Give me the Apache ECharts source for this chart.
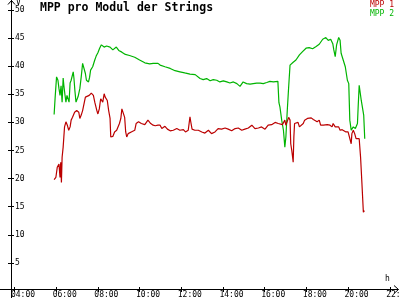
<!DOCTYPE html>
<html><head><meta charset="utf-8">
<script src="https://cdn.jsdelivr.net/npm/echarts@6/dist/echarts.min.js"></script>
<style>html,body{margin:0;padding:0;background:#fff}#c{width:400px;height:300px}</style>
</head><body><div id="c"></div>
<script>
const mpp1Times = ['05:54','05:59','06:03','06:08','06:11','06:13','06:15','06:17','06:20','06:22','06:24','06:28','06:32','06:36','06:40','06:43','06:47','06:53','06:59','07:05','07:08','07:12','07:16','07:20','07:24','07:29','07:35','07:41','07:47','07:51','07:57','08:00','08:04','08:08','08:14','08:18','08:21','08:27','08:31','08:35','08:37','08:43','08:48','08:54','08:58','09:02','09:06','09:09','09:13','09:17','09:20','09:23','09:27','09:36','09:46','09:50','09:57','10:05','10:15','10:24','10:32','10:39','10:45','10:53','10:59','11:04','11:13','11:20','11:28','11:37','11:47','11:56','12:06','12:12','12:20','12:25','12:27','12:31','12:39','12:49','12:59','13:08','13:18','13:27','13:37','13:46','13:56','14:06','14:15','14:25','14:35','14:44','14:54','15:03','15:13','15:23','15:32','15:42','15:51','16:01','16:10','16:20','16:30','16:39','16:44','16:51','16:58','17:01','17:05','17:09','17:13','17:15','17:18','17:21','17:22','17:24','17:26','17:30','17:36','17:40','17:45','17:51','17:55','17:59','18:03','18:08','18:14','18:20','18:25','18:31','18:37','18:41','18:49','18:54','19:00','19:08','19:14','19:17','19:23','19:27','19:33','19:37','19:43','19:48','19:54','20:00','20:05','20:09','20:11','20:15','20:19','20:23','20:27','20:32','20:36','20:40','20:44','20:47'];
const mpp1Values = [19.8,20.2,22.0,22.6,20.2,22.9,19.3,23.8,25.6,27.4,29.2,30.1,29.5,28.6,29.2,30.4,30.9,31.8,32.1,31.8,30.7,31.3,32.1,33.3,34.5,34.8,34.8,35.2,34.8,33.6,32.1,31.5,32.4,34.2,33.6,35.1,34.5,33.9,32.1,30.7,27.4,27.5,28.3,28.6,28.3,29.8,30.7,32.4,32.6,30.9,28.3,27.4,28.0,28.3,28.6,29.8,30.1,29.8,29.6,30.4,29.8,29.5,29.4,29.5,29.5,28.9,29.3,28.8,28.5,28.6,28.9,28.6,28.7,28.3,28.6,31.0,30.2,28.8,28.6,28.6,28.3,28.1,28.6,28.0,28.3,28.9,28.8,29.0,28.8,28.5,28.9,29.0,28.6,28.8,29.0,29.5,28.9,29.0,29.2,28.8,29.5,29.6,30.0,29.8,29.8,29.6,30.4,29.5,29.8,30.9,30.4,26.2,25.0,23.5,22.9,27.4,29.8,29.5,30.0,29.2,29.5,29.8,30.4,30.1,30.7,30.4,30.8,30.5,30.7,30.1,30.4,29.5,29.5,29.2,29.6,29.5,29.2,29.8,29.2,29.5,29.2,28.6,28.7,28.5,28.3,28.3,28.0,26.2,28.0,28.6,28.0,27.1,26.8,27.1,23.8,19.0,14.0,14.3];

const mpp2Times = ['05:54','05:57','06:01','06:05','06:08','06:11','06:14','06:17','06:20','06:22','06:25','06:28','06:31','06:34','06:37','06:40','06:43','06:49','06:51','06:54','06:57','07:00','07:03','07:08','07:12','07:16','07:20','07:24','07:27','07:29','07:33','07:36','07:39','07:45','07:51','07:55','08:00','08:05','08:10','08:18','08:25','08:35','08:43','08:53','09:00','09:09','09:19','09:31','09:46','10:00','10:15','10:29','10:39','10:53','10:59','11:13','11:28','11:42','11:56','12:10','12:25','12:40','12:54','13:03','13:13','13:23','13:32','13:42','13:51','14:01','14:11','14:20','14:30','14:40','14:49','14:58','15:08','15:18','15:27','15:37','15:47','15:56','16:06','16:15','16:25','16:38','16:41','16:44','16:49','16:54','16:58','17:01','17:05','17:09','17:13','17:17','17:22','17:30','17:40','17:49','17:59','18:08','18:18','18:28','18:37','18:47','18:56','19:03','19:10','19:16','19:19','19:23','19:27','19:33','19:37','19:40','19:46','19:52','19:58','20:02','20:05','20:09','20:15','20:21','20:27','20:29','20:32','20:35','20:38','20:42','20:45','20:48'];
const mpp2Values = [31.4,34.5,38.1,37.5,36.0,34.8,36.5,33.6,37.9,36.6,35.0,33.6,34.8,34.5,33.6,37.0,37.5,39.0,37.9,35.5,33.6,33.9,34.6,36.0,38.1,40.5,40.8,38.7,37.5,37.3,37.2,38.0,39.3,39.9,41.1,41.8,42.4,43.2,43.8,43.4,43.6,43.4,42.9,43.4,42.8,42.5,42.1,41.9,41.6,41.1,40.6,40.4,40.5,40.5,40.2,39.9,39.6,39.2,39.0,38.8,38.6,38.5,37.8,37.6,37.8,37.4,37.6,37.5,37.2,37.4,37.2,37.0,37.2,36.9,36.4,37.2,36.9,36.8,36.9,37.0,37.0,36.9,37.1,37.3,37.2,37.3,33.5,32.7,30.4,28.6,25.6,27.4,32.1,36.3,40.2,40.5,40.7,41.1,42.0,42.6,43.2,43.3,43.1,43.5,43.9,44.8,45.1,44.6,44.8,44.0,42.9,41.7,43.8,45.1,44.6,42.3,41.1,39.9,37.5,36.9,30.4,28.6,29.2,28.9,29.8,32.7,36.6,36.3,33.9,33.6,31.3,27.1];

const xTickLabels = ['04:00','06:00','08:00','10:00','12:00','14:00','16:00','18:00','20:00','22:00'];
const yTickValues = [5,10,15,20,25,30,35,40,45,50];
const seriesNames = ['MPP 1','MPP 2'];
const colors = ['#bb0000','#00b400'];

function toMin(t){const p=t.split(':');return (+p[0])*60+(+p[1]);}
function pad(n){return (n<10?'0':'')+n;}
function fmt(v){v=Math.round(v);return pad(Math.floor(v/60))+':'+pad(v%60);}
const xTicks = xTickLabels.map(toMin);
const s1 = mpp1Times.map((t,i)=>[toMin(t),mpp1Values[i]]);
const s2 = mpp2Times.map((t,i)=>[toMin(t),mpp2Values[i]]);

const FONT = 'DejaVu Sans Mono';
const XMIN = 229.9, XMAX = 1343.7, YMIN = 0.35, YMAX = 51.78;

const chart = echarts.init(document.getElementById('c'), null, {renderer:'canvas'});
chart.setOption({
  animation:false,
  backgroundColor:'#ffffff',
  title:{text:'MPP pro Modul der Strings', left:40, top:2, padding:0,
    textStyle:{fontFamily:FONT, fontWeight:'bold', fontSize:11.5, color:'#000'}},
  legend:{orient:'vertical', right:6, top:1, padding:0, itemWidth:0, itemHeight:7, itemGap:0.5, icon:'none',
    textStyle:{fontFamily:FONT, fontSize:8},
    data:[{name:seriesNames[0], textStyle:{color:colors[0]}},{name:seriesNames[1], textStyle:{color:colors[1]}}]},
  grid:{left:11, right:2, top:0, bottom:11, containLabel:false, outerBoundsMode:'none'},
  xAxis:[
    {type:'value', min:XMIN, max:XMAX, position:'bottom',
     axisLine:{show:true, onZero:false, lineStyle:{color:'#000', width:1}},
     axisTick:{show:true, inside:false, length:3, customValues:xTicks, lineStyle:{color:'#000'}},
     axisLabel:{show:true, customValues:xTicks, formatter:fmt, fontFamily:FONT, fontSize:8, color:'#000', margin:2, padding:[0,0,0,17], hideOverlap:false, showMinLabel:true, showMaxLabel:true},
     splitLine:{show:false}},
    {type:'value', min:XMIN, max:XMAX, position:'bottom', offset:0,
     axisLine:{show:false, onZero:false},
     axisTick:{show:true, inside:true, length:2, customValues:xTicks, lineStyle:{color:'#000'}},
     axisLabel:{show:false}, splitLine:{show:false}}
  ],
  yAxis:[
    {type:'value', min:YMIN, max:YMAX, position:'left',
     axisLine:{show:true, onZero:false, lineStyle:{color:'#000', width:1}},
     axisTick:{show:true, inside:false, length:3, customValues:yTickValues, lineStyle:{color:'#000'}},
     axisLabel:{show:true, inside:true, customValues:yTickValues, margin:4, fontFamily:FONT, fontSize:8, color:'#000'},
     splitLine:{show:false}},
    {type:'value', min:YMIN, max:YMAX, position:'left', offset:0,
     axisLine:{show:false, onZero:false},
     axisTick:{show:true, inside:true, length:3, customValues:yTickValues, lineStyle:{color:'#000'}},
     axisLabel:{show:false}, splitLine:{show:false}}
  ],
  series:[
    {name:seriesNames[0], type:'line', data:s1, showSymbol:false, symbol:'none', color:colors[0], lineStyle:{width:1.2, color:colors[0]}, xAxisIndex:0, yAxisIndex:0, z:3},
    {name:seriesNames[1], type:'line', data:s2, showSymbol:false, symbol:'none', color:colors[1], lineStyle:{width:1.2, color:colors[1]}, xAxisIndex:0, yAxisIndex:0, z:2}
  ],
  graphic:[
    {type:'line', shape:{x1:0, y1:289.5, x2:11.5, y2:289.5}, style:{stroke:'#000', lineWidth:1}},
    {type:'line', shape:{x1:11.5, y1:289, x2:11.5, y2:298}, style:{stroke:'#000', lineWidth:1}},
    {type:'polyline', shape:{points:[[8,4.5],[11.5,0.5],[15,4.5]]}, style:{stroke:'#000', fill:null, lineWidth:1}},
    {type:'polyline', shape:{points:[[394,285.5],[398.5,289.5],[394,293.5]]}, style:{stroke:'#000', fill:null, lineWidth:1}},
    {type:'text', left:16, top:-1, style:{text:'V', font:'8px "DejaVu Sans Mono"', fill:'#000'}},
    {type:'text', left:385, top:275, style:{text:'h', font:'8px "DejaVu Sans Mono"', fill:'#000'}}
  ]
});
</script>
</body></html>
